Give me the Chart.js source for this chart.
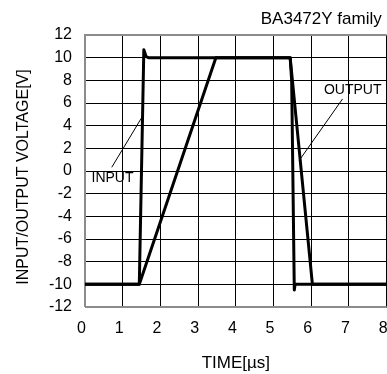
<!DOCTYPE html>
<html>
<head>
<meta charset="utf-8">
<script src="https://cdn.jsdelivr.net/npm/chart.js@4/dist/chart.umd.min.js"></script>
<style>
  html, body { margin: 0; padding: 0; background: #fff; overflow: hidden; }
  #wrap { width: 420px; height: 374px; }
</style>
</head>
<body>
<div id="wrap"><canvas id="c" width="420" height="374"></canvas></div>
<script>
// ---- data ----
const inputTime   = [0, 1.44, 1.56, 1.62, 1.68, 5.44, 5.48, 5.55, 5.57, 8];
const inputVolt   = [-10, -10, 10.7, 10.1, 10, 10, 8, -10.5, -10, -10];
const outputTime  = [0, 1.44, 3.47, 5.44, 6.03, 8];
const outputVolt  = [-10, -10, 10, 10, -10, -10];
const xTickValues = [0, 1, 2, 3, 4, 5, 6, 7, 8];
const yTickValues = [-12, -10, -8, -6, -4, -2, 0, 2, 4, 6, 8, 10, 12];
const chartTitle  = 'BA3472Y family';
const xTitle      = 'TIME[\u00b5s]';
const yTitle      = 'INPUT/OUTPUT VOLTAGE[V]';
// annotation labels: [text, textX, textY, leaderFromX, leaderFromY, leaderToX, leaderToY] in data units
const annInput    = ['INPUT', 0.73, -0.66, 0.71, 0.33, 1.50, 4.69];
const annOutput   = ['OUTPUT', 7.1, 7.1, 6.83, 6.36, 5.68, 0.93];

const FONT = '"Liberation Sans", Arial, sans-serif';

const toPts = (xs, ys) => xs.map((x, i) => ({ x: x, y: ys[i] }));

const decor = {
  id: 'decor',
  beforeDatasetsDraw(chart) {
    const { ctx, chartArea: a } = chart;
    ctx.save();
    ctx.strokeStyle = '#8c8c8c';
    ctx.lineWidth = 2;
    ctx.beginPath();
    ctx.moveTo(a.left, a.bottom);
    ctx.lineTo(a.left, a.top);
    ctx.lineTo(a.right, a.top);
    ctx.moveTo(a.left, a.bottom);
    ctx.lineTo(a.right, a.bottom);
    ctx.stroke();
    ctx.restore();
  },
  afterDatasetsDraw(chart) {
    const { ctx, chartArea: a, scales: { x, y } } = chart;
    ctx.save();
    ctx.fillStyle = '#000';
    // chart title (right-aligned just inside the visible window)
    ctx.font = '17px ' + FONT;
    ctx.textAlign = 'right';
    ctx.textBaseline = 'middle';
    ctx.fillText(chartTitle, a.right - 5, a.top - 16);
    // y axis title
    ctx.save();
    ctx.translate(23.5, (a.top + a.bottom) / 2 + 6);
    ctx.rotate(-Math.PI / 2);
    ctx.font = '16px ' + FONT;
    ctx.textAlign = 'center';
    ctx.textBaseline = 'middle';
    ctx.fillText(yTitle, 0, 0);
    ctx.restore();
    // annotations
    [annInput, annOutput].forEach(an => {
      ctx.strokeStyle = '#000';
      ctx.lineWidth = 1;
      ctx.beginPath();
      ctx.moveTo(x.getPixelForValue(an[3]), y.getPixelForValue(an[4]));
      ctx.lineTo(x.getPixelForValue(an[5]), y.getPixelForValue(an[6]));
      ctx.stroke();
      ctx.font = '14px ' + FONT;
      ctx.textAlign = 'center';
      ctx.textBaseline = 'middle';
      ctx.fillText(an[0], x.getPixelForValue(an[1]), y.getPixelForValue(an[2]));
    });
    ctx.restore();
  }
};

new Chart(document.getElementById('c'), {
  type: 'scatter',
  data: {
    datasets: [
      { label: 'INPUT', data: toPts(inputTime, inputVolt), showLine: true,
        borderColor: '#000', borderWidth: 3, pointRadius: 0, borderJoinStyle: 'round', fill: false },
      { label: 'OUTPUT', data: toPts(outputTime, outputVolt), showLine: true,
        borderColor: '#000', borderWidth: 3, pointRadius: 0, borderJoinStyle: 'round', fill: false }
    ]
  },
  options: {
    responsive: false,
    animation: false,
    events: [],
    layout: { padding: { left: 0, top: 35, right: 33.3, bottom: 0 } },
    plugins: { legend: { display: false }, tooltip: { enabled: false }, title: { display: false } },
    scales: {
      x: {
        type: 'linear', min: 0, max: 8,
        afterBuildTicks: s => { s.ticks = xTickValues.map(v => ({ value: v })); },
        afterFit: s => { s.height = 67; },
        grid: { color: '#000', lineWidth: 1, drawTicks: false },
        border: { display: false },
        ticks: { color: '#000', font: { family: FONT, size: 16 }, padding: 12, labelOffset: -3.5, maxRotation: 0, autoSkip: false },
        title: { display: true, text: xTitle, color: '#000', font: { family: FONT, size: 17 }, padding: { top: 0, bottom: 0 } }
      },
      y: {
        type: 'linear', min: -12, max: 12,
        afterBuildTicks: s => { s.ticks = yTickValues.map(v => ({ value: v })); },
        afterFit: s => { s.width = 85; },
        grid: { color: '#000', lineWidth: 1, drawTicks: false },
        border: { display: false },
        ticks: { color: '#000', font: { family: FONT, size: 16 }, padding: 13, autoSkip: false },
        title: { display: false }
      }
    }
  },
  plugins: [decor]
});
</script>
</body>
</html>
